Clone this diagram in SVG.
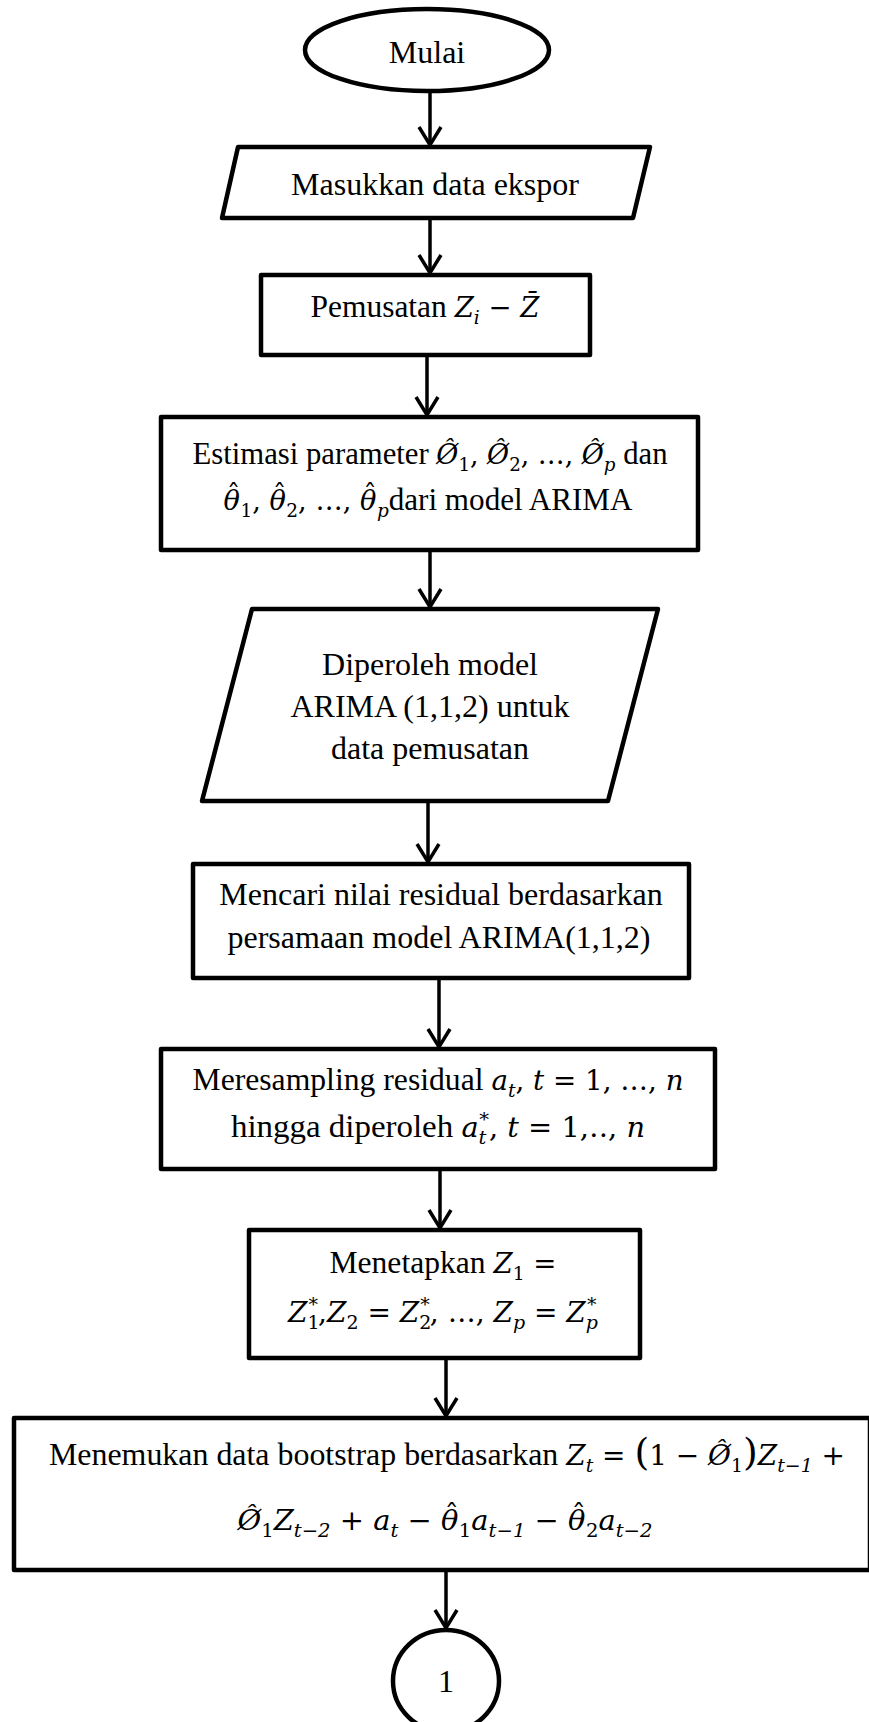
<svg xmlns="http://www.w3.org/2000/svg" width="869" height="1722" viewBox="0 0 869 1722">
<style>
.shape{fill:#fff;stroke:#000;stroke-width:4.5;stroke-linejoin:round}
.conn{fill:none;stroke:#000;stroke-width:3.5}
.t{font-family:"Liberation Serif","Times New Roman",serif;font-size:32px;fill:#000}
.mi{font-family:"DejaVu Serif",serif;font-style:italic;font-size:28px}
.mr{font-family:"DejaVu Serif",serif;font-style:normal;font-size:28px}
.sb{font-size:19px}
.big{font-size:38px}
</style>
<defs>
<marker id="ah" markerUnits="userSpaceOnUse" markerWidth="24" markerHeight="24" refX="20" refY="12" orient="auto" overflow="visible">
<path d="M2,1 L20,12 L2,23" fill="none" stroke="#000" stroke-width="3.5" stroke-linejoin="miter"/>
</marker>
</defs>
<rect width="869" height="1722" fill="#fff"/>

<g id="connectors">
<line class="conn" x1="430" y1="91" x2="430" y2="145" marker-end="url(#ah)"/>
<line class="conn" x1="430" y1="218" x2="430" y2="273" marker-end="url(#ah)"/>
<line class="conn" x1="427" y1="355" x2="427" y2="415" marker-end="url(#ah)"/>
<line class="conn" x1="430" y1="550" x2="430" y2="607" marker-end="url(#ah)"/>
<line class="conn" x1="428" y1="801" x2="428" y2="862" marker-end="url(#ah)"/>
<line class="conn" x1="439" y1="978" x2="439" y2="1047" marker-end="url(#ah)"/>
<line class="conn" x1="440" y1="1169" x2="440" y2="1228" marker-end="url(#ah)"/>
<line class="conn" x1="446" y1="1358" x2="446" y2="1416" marker-end="url(#ah)"/>
<line class="conn" x1="446" y1="1570" x2="446" y2="1628" marker-end="url(#ah)"/>
</g>

<g id="mulai">
<ellipse class="shape" cx="427" cy="50" rx="122" ry="41"/>
<text class="t" x="427" y="63" text-anchor="middle">Mulai</text>
</g>

<g id="masukkan">
<polygon class="shape" points="238,147 650,147 633,218 222,218"/>
<text class="t" x="435" y="195" text-anchor="middle">Masukkan data ekspor</text>
</g>

<g id="pemusatan">
<rect class="shape" x="261" y="275" width="329" height="80"/>
<text class="t" x="425" y="317" text-anchor="middle" textLength="229" lengthAdjust="spacingAndGlyphs">Pemusatan <tspan class="mi">Z</tspan><tspan class="mi sb" baseline-shift="-7">i</tspan><tspan class="mr"> − </tspan><tspan class="mi">Z̄</tspan></text>
</g>

<g id="estimasi">
<rect class="shape" x="161" y="417" width="537" height="133"/>
<text class="t" x="430" y="464" text-anchor="middle" textLength="475" lengthAdjust="spacingAndGlyphs">Estimasi parameter <tspan class="mi">Ø̂</tspan><tspan class="mr sb" baseline-shift="-7">1</tspan><tspan class="mr">, </tspan><tspan class="mi">Ø̂</tspan><tspan class="mr sb" baseline-shift="-7">2</tspan><tspan class="mr">, …, </tspan><tspan class="mi">Ø̂</tspan><tspan class="mi sb" baseline-shift="-7">p</tspan> dan</text>
<text class="t" x="428" y="510" text-anchor="middle" textLength="409" lengthAdjust="spacingAndGlyphs"><tspan class="mi">θ</tspan><tspan class="mr" dx="-13.5" baseline-shift="6">ˆ</tspan><tspan class="mr sb" baseline-shift="-7">1</tspan><tspan class="mr">, </tspan><tspan class="mi">θ</tspan><tspan class="mr" dx="-13.5" baseline-shift="6">ˆ</tspan><tspan class="mr sb" baseline-shift="-7">2</tspan><tspan class="mr">, …, </tspan><tspan class="mi">θ</tspan><tspan class="mr" dx="-13.5" baseline-shift="6">ˆ</tspan><tspan class="mi sb" baseline-shift="-7">p</tspan>dari model ARIMA</text>
</g>

<g id="diperoleh">
<polygon class="shape" points="252,609 658,609 608,801 202,801"/>
<text class="t" x="430" y="675" text-anchor="middle">Diperoleh model</text>
<text class="t" x="430" y="717" text-anchor="middle">ARIMA (1,1,2) untuk</text>
<text class="t" x="430" y="759" text-anchor="middle">data pemusatan</text>
</g>

<g id="mencari">
<rect class="shape" x="193" y="864" width="496" height="114"/>
<text class="t" x="441" y="905" text-anchor="middle">Mencari nilai residual berdasarkan</text>
<text class="t" x="439" y="948" text-anchor="middle">persamaan model ARIMA(1,1,2)</text>
</g>

<g id="meresampling">
<rect class="shape" x="161" y="1049" width="554" height="120"/>
<text class="t" x="438" y="1090" text-anchor="middle" textLength="491" lengthAdjust="spacingAndGlyphs">Meresampling residual <tspan class="mi">a</tspan><tspan class="mi sb" baseline-shift="-7">t</tspan><tspan class="mr">, </tspan><tspan class="mi">t</tspan><tspan class="mr"> = 1, …, </tspan><tspan class="mi">n</tspan></text>
<text class="t" x="438" y="1137" text-anchor="middle" textLength="414" lengthAdjust="spacingAndGlyphs">hingga diperoleh <tspan class="mi">a</tspan><tspan class="mi sb" baseline-shift="-7">t</tspan><tspan class="mr sb" baseline-shift="11" dx="-7">*</tspan><tspan class="mr">, </tspan><tspan class="mi">t</tspan><tspan class="mr"> = 1,‥, </tspan><tspan class="mi">n</tspan></text>
</g>

<g id="menetapkan">
<rect class="shape" x="249" y="1230" width="391" height="128"/>
<text class="t" x="443" y="1273" text-anchor="middle" textLength="227" lengthAdjust="spacingAndGlyphs">Menetapkan <tspan class="mi">Z</tspan><tspan class="mr sb" baseline-shift="-7">1</tspan><tspan class="mr"> =</tspan></text>
<text class="t" x="443" y="1322" text-anchor="middle" textLength="310" lengthAdjust="spacingAndGlyphs"><tspan class="mi">Z</tspan><tspan class="mr sb" baseline-shift="-7">1</tspan><tspan class="mr sb" baseline-shift="11" dx="-11">*</tspan><tspan class="mr">,</tspan><tspan class="mi">Z</tspan><tspan class="mr sb" baseline-shift="-7">2</tspan><tspan class="mr"> = </tspan><tspan class="mi">Z</tspan><tspan class="mr sb" baseline-shift="-7">2</tspan><tspan class="mr sb" baseline-shift="11" dx="-11">*</tspan><tspan class="mr">, …, </tspan><tspan class="mi">Z</tspan><tspan class="mi sb" baseline-shift="-7">p</tspan><tspan class="mr"> = </tspan><tspan class="mi">Z</tspan><tspan class="mi sb" baseline-shift="-7">p</tspan><tspan class="mr sb" baseline-shift="11" dx="-11">*</tspan></text>
</g>

<g id="menemukan">
<rect class="shape" x="14" y="1418" width="856" height="152"/>
<text class="t" x="447" y="1465" text-anchor="middle" textLength="796" lengthAdjust="spacingAndGlyphs">Menemukan data bootstrap berdasarkan <tspan class="mi">Z</tspan><tspan class="mi sb" baseline-shift="-7">t</tspan><tspan class="mr"> = </tspan><tspan class="mr big">(</tspan><tspan class="mr">1 − </tspan><tspan class="mi">Ø̂</tspan><tspan class="mr sb" baseline-shift="-7">1</tspan><tspan class="mr big">)</tspan><tspan class="mi">Z</tspan><tspan class="mi sb" baseline-shift="-7">t−1</tspan><tspan class="mr"> +</tspan></text>
<text class="t" x="445" y="1530" text-anchor="middle" textLength="415" lengthAdjust="spacingAndGlyphs"><tspan class="mi">Ø̂</tspan><tspan class="mr sb" baseline-shift="-7">1</tspan><tspan class="mi">Z</tspan><tspan class="mi sb" baseline-shift="-7">t−2</tspan><tspan class="mr"> + </tspan><tspan class="mi">a</tspan><tspan class="mi sb" baseline-shift="-7">t</tspan><tspan class="mr"> − </tspan><tspan class="mi">θ</tspan><tspan class="mr" dx="-13.5" baseline-shift="6">ˆ</tspan><tspan class="mr sb" baseline-shift="-7">1</tspan><tspan class="mi">a</tspan><tspan class="mi sb" baseline-shift="-7">t−1</tspan><tspan class="mr"> − </tspan><tspan class="mi">θ</tspan><tspan class="mr" dx="-13.5" baseline-shift="6">ˆ</tspan><tspan class="mr sb" baseline-shift="-7">2</tspan><tspan class="mi">a</tspan><tspan class="mi sb" baseline-shift="-7">t−2</tspan></text>
</g>

<g id="connector-1">
<ellipse class="shape" cx="446" cy="1681" rx="53" ry="51"/>
<text class="t" x="446" y="1692" text-anchor="middle">1</text>
</g>
</svg>
